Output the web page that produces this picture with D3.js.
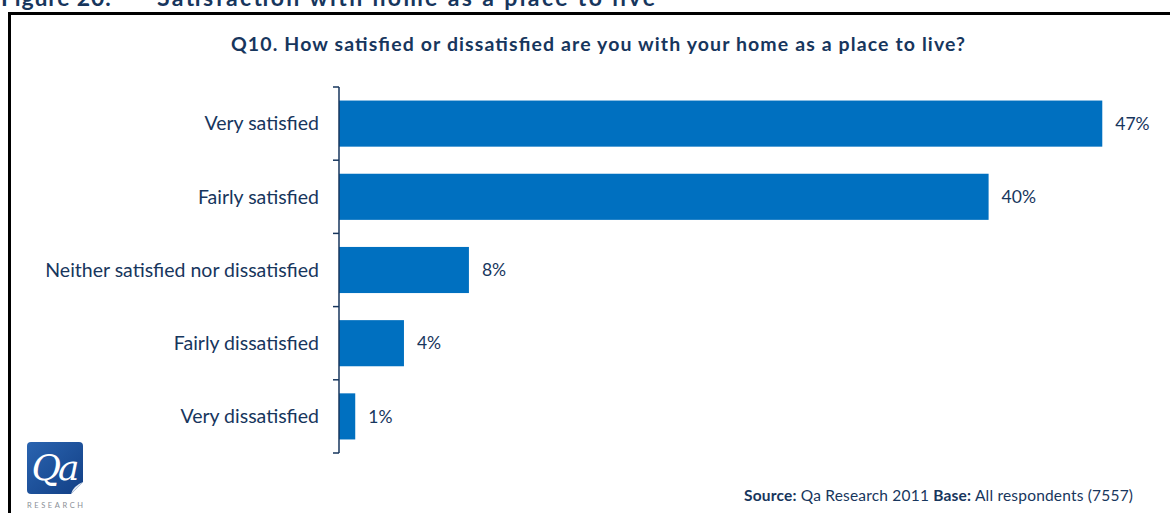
<!DOCTYPE html>
<html>
<head>
<meta charset="utf-8">
<script src="https://cdn.jsdelivr.net/npm/d3@7"></script>
<style>
  html, body { margin: 0; padding: 0; background: #fff; }
  svg { display: block; font-family: Lato, "Open Sans", sans-serif; }
</style>
</head>
<body>
<svg id="chart" width="1170" height="513"></svg>
<script>
// Survey responses: satisfaction with home as a place to live
const categories = [
  "Very satisfied",
  "Fairly satisfied",
  "Neither satisfied nor dissatisfied",
  "Fairly dissatisfied",
  "Very dissatisfied"
];
const percentages = [47, 40, 8, 4, 1];
const valueLabels = ["47%", "40%", "8%", "4%", "1%"];

const figureNumber = "Figure 20:";
const figureTitle = "Satisfaction with home as a place to live";
const question = "Q10. How satisfied or dissatisfied are you with your home as a place to live?";

const navy = "#17365d";
const barBlue = "#0070c0";

const svg = d3.select("#chart");

// Figure heading (sits above the framed panel)
const heading = svg.append("g")
  .attr("font-size", 23).attr("font-weight", "bold").attr("fill", navy);
heading.append("text").attr("x", 1).attr("y", 6)
  .attr("textLength", 110).attr("lengthAdjust", "spacing")
  .text(figureNumber);
heading.append("text").attr("x", 157).attr("y", 6)
  .attr("textLength", 498).attr("lengthAdjust", "spacing")
  .text(figureTitle);

// Panel frame
svg.append("rect")
  .attr("x", 9.5).attr("y", 13.5)
  .attr("width", 1200).attr("height", 520)
  .attr("fill", "none").attr("stroke", "#000").attr("stroke-width", 3);

// Question title
svg.append("text")
  .attr("x", 231).attr("y", 51)
  .attr("font-size", 19.5).attr("font-weight", "bold")
  .attr("fill", navy)
  .attr("textLength", 734).attr("lengthAdjust", "spacing")
  .text(question);

// Scales
const x = d3.scaleLinear().domain([0, 50]).range([339, 1151]);
const y = d3.scaleBand().domain(categories).range([87, 453]).padding(0);
const barFrac = 0.63;

const data = categories.map((c, i) => ({ cat: c, value: percentages[i], label: valueLabels[i] }));

// Bars
svg.append("g").selectAll("rect")
  .data(data).join("rect")
  .attr("x", x(0))
  .attr("y", d => y(d.cat) + y.bandwidth() * (1 - barFrac) / 2)
  .attr("width", d => x(d.value) - x(0))
  .attr("height", y.bandwidth() * barFrac)
  .attr("fill", barBlue);

// Value labels
svg.append("g").selectAll("text")
  .data(data).join("text")
  .attr("x", d => x(d.value) + 13)
  .attr("y", d => y(d.cat) + y.bandwidth() / 2)
  .attr("dy", "0.35em")
  .attr("font-size", 17.5)
  .attr("fill", navy)
  .text(d => d.label);

// Category axis: vertical line with ticks on the category boundaries
const axisG = svg.append("g").attr("stroke", navy).attr("stroke-width", 1.5);
axisG.append("line")
  .attr("x1", x(0)).attr("x2", x(0))
  .attr("y1", y.range()[0]).attr("y2", y.range()[1]);
const boundaries = categories.map(c => y(c)).concat([y.range()[1]]);
axisG.selectAll("line.tick")
  .data(boundaries).join("line")
  .attr("class", "tick")
  .attr("x1", x(0) - 6).attr("x2", x(0))
  .attr("y1", d => d).attr("y2", d => d);

// Category labels
svg.append("g").selectAll("text")
  .data(categories).join("text")
  .attr("x", 319)
  .attr("y", d => y(d) + y.bandwidth() / 2)
  .attr("dy", "0.35em")
  .attr("text-anchor", "end")
  .attr("font-size", 19.5)
  .attr("fill", navy)
  .text(d => d);

// Source / base footnote
const foot = svg.append("text")
  .attr("x", 744).attr("y", 501)
  .attr("font-size", 15.5)
  .attr("fill", navy)
  .attr("textLength", 389).attr("lengthAdjust", "spacing");
foot.append("tspan").attr("font-weight", "bold").text("Source:");
foot.append("tspan").text(" Qa Research 2011  ");
foot.append("tspan").attr("font-weight", "bold").text("Base:");
foot.append("tspan").text(" All respondents (7557)");

// Qa Research logo
const logo = svg.append("g").attr("transform", "translate(27,442)");
const grad = svg.append("defs").append("linearGradient")
  .attr("id", "logoGrad").attr("x1", 0).attr("y1", 0).attr("x2", 1).attr("y2", 1);
grad.append("stop").attr("offset", "0%").attr("stop-color", "#2a64b0");
grad.append("stop").attr("offset", "100%").attr("stop-color", "#123f85");
logo.append("path")
  .attr("d", "M4,0 H52 Q56,0 56,4 V40 L44,52 H4 Q0,52 0,48 V4 Q0,0 4,0 Z")
  .attr("fill", "url(#logoGrad)");
logo.append("path")
  .attr("d", "M56,40 L44,52 Q46,44 56,40 Z")
  .attr("fill", "#dfe6ef");
logo.append("text")
  .attr("x", 27).attr("y", 38)
  .attr("text-anchor", "middle")
  .attr("font-family", "'DejaVu Serif', 'Liberation Serif', serif")
  .attr("font-style", "italic")
  .attr("font-size", 36)
  .attr("fill", "#fff")
  .attr("letter-spacing", -3)
  .text("Qa");
logo.append("text")
  .attr("x", 0).attr("y", 66)
  .attr("font-size", 7.5)
  .attr("fill", "#8a8f96")
  .attr("textLength", 56).attr("lengthAdjust", "spacing")
  .text("RESEARCH");
</script>
</body>
</html>
